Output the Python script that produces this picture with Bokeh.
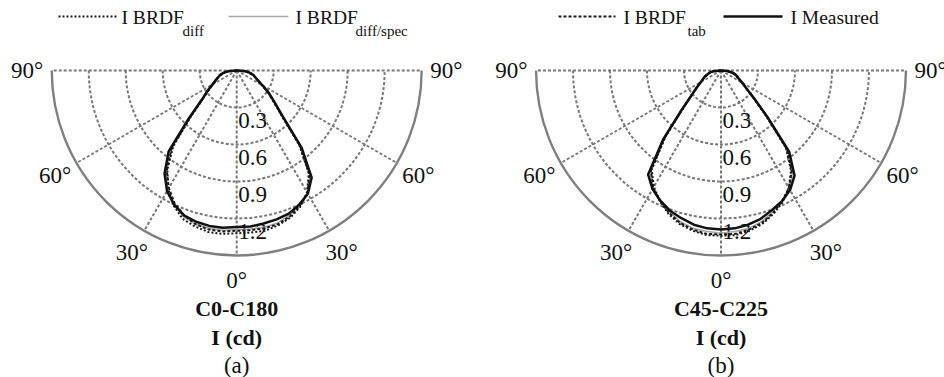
import numpy as np
from bokeh.plotting import figure
from bokeh.layouts import row
from bokeh.models import Range1d
from bokeh.core.properties import value
from bokeh.embed import file_html
from bokeh.resources import INLINE

# ---------------- data ----------------
angles = list(range(-90, 95, 5))  # degrees from nadir; negative = left half

ring_values = [0.3, 0.6, 0.9, 1.2]
ring_labels = ["0.3", "0.6", "0.9", "1.2"]
outer_value = 1.5
spoke_angles = [-90, -60, -30, 0, 30, 60, 90]
spoke_labels = ["90°", "60°", "30°", "0°", "30°", "60°", "90°"]

# C0-C180
c0_measured = [0.00, 0.07, 0.11, 0.14, 0.16, 0.19, 0.23, 0.29, 0.37, 0.55, 0.86, 1.02, 1.13, 1.20,
               1.25, 1.27, 1.28, 1.28, 1.27, 1.27, 1.26, 1.25, 1.235, 1.20, 1.155, 1.06, 0.82, 0.53,
               0.40, 0.32, 0.24, 0.19, 0.16, 0.14, 0.11, 0.07, 0.00]
c0_diff = [0.00, 0.07, 0.11, 0.14, 0.16, 0.19, 0.22, 0.28, 0.36, 0.52, 0.80, 0.98, 1.11, 1.21,
           1.28, 1.31, 1.33, 1.33, 1.32, 1.32, 1.32, 1.30, 1.27, 1.22, 1.14, 1.02, 0.79, 0.51,
           0.39, 0.31, 0.24, 0.19, 0.16, 0.14, 0.11, 0.07, 0.00]
c0_tab = [0.00, 0.07, 0.11, 0.13, 0.16, 0.18, 0.22, 0.28, 0.36, 0.53, 0.82, 0.99, 1.10, 1.19,
          1.25, 1.29, 1.31, 1.31, 1.30, 1.30, 1.30, 1.29, 1.26, 1.21, 1.15, 1.03, 0.80, 0.52,
          0.39, 0.31, 0.24, 0.19, 0.16, 0.13, 0.10, 0.07, 0.00]
c0_diffspec = [0.00, 0.07, 0.11, 0.14, 0.16, 0.19, 0.23, 0.29, 0.37, 0.54, 0.83, 1.00, 1.12, 1.20,
               1.26, 1.29, 1.30, 1.30, 1.29, 1.29, 1.29, 1.28, 1.25, 1.21, 1.15, 1.04, 0.81, 0.52,
               0.40, 0.31, 0.24, 0.19, 0.16, 0.14, 0.11, 0.07, 0.00]

# C45-C225
c45_measured = [0.00, 0.06, 0.09, 0.11, 0.14, 0.16, 0.19, 0.24, 0.31, 0.45, 0.73, 1.03, 1.11, 1.165,
                1.21, 1.24, 1.27, 1.285, 1.29, 1.285, 1.27, 1.245, 1.205, 1.17, 1.12, 1.04, 0.86, 0.53,
                0.35, 0.25, 0.20, 0.16, 0.14, 0.12, 0.09, 0.05, 0.00]
c45_diff = [0.00, 0.06, 0.09, 0.11, 0.14, 0.16, 0.19, 0.24, 0.31, 0.44, 0.70, 0.98, 1.09, 1.17,
            1.24, 1.29, 1.32, 1.34, 1.34, 1.34, 1.32, 1.29, 1.24, 1.18, 1.10, 0.99, 0.82, 0.51,
            0.34, 0.25, 0.20, 0.16, 0.14, 0.12, 0.09, 0.05, 0.00]
c45_tab = [0.00, 0.06, 0.09, 0.11, 0.13, 0.16, 0.19, 0.24, 0.31, 0.44, 0.71, 0.99, 1.10, 1.17,
           1.23, 1.28, 1.31, 1.33, 1.33, 1.33, 1.31, 1.28, 1.23, 1.17, 1.10, 1.00, 0.83, 0.52,
           0.34, 0.25, 0.20, 0.16, 0.13, 0.11, 0.08, 0.05, 0.00]
c45_diffspec = [0.00, 0.06, 0.09, 0.11, 0.14, 0.16, 0.19, 0.24, 0.31, 0.45, 0.72, 1.00, 1.10, 1.17,
                1.22, 1.27, 1.30, 1.31, 1.32, 1.31, 1.30, 1.27, 1.22, 1.17, 1.11, 1.01, 0.84, 0.52,
                0.35, 0.25, 0.20, 0.16, 0.14, 0.12, 0.09, 0.05, 0.00]

panel_titles = ["C0-C180", "C45-C225"]
panel_unit = "I (cd)"
panel_letters = ["(a)", "(b)"]

# ---------------- layout / style ----------------
S = 123.3            # px per cd
W, H = 472, 377
PAGE_X0 = [0, 472]
CENTER_X = [236.2, 720.5]
CENTER_Y = 70.0
FONT = value("Liberation Serif")
GRID = "#787878"
OUTER = "#7f7f7f"
TXT = "#111111"

series_styles = [
    # (key, color, width, dash)
    ("diffspec", "#a8a8a8", 1.6, "solid"),
    ("diff", "#1a1a1a", 2.0, "2 2"),
    ("tab", "#1a1a1a", 2.0, "3 2"),
    ("measured", "#111111", 2.5, "solid"),
]
panel_series = [
    {"measured": c0_measured, "diff": c0_diff, "tab": c0_tab, "diffspec": c0_diffspec},
    {"measured": c45_measured, "diff": c45_diff, "tab": c45_tab, "diffspec": c45_diffspec},
]

# legend entries per panel: (style key, sample x0, sample x1, text x, text, sub x, sub text) in page px
legend_entries = [
    [("diff", 58, 117, 121, "I BRDF", 182, "diff"),
     ("diffspec", 228, 288, 295, "I BRDF", 355, "diff/spec")],
    [("tab", 558, 615, 623, "I BRDF", 687, "tab"),
     ("measured", 723, 782, 790, "I Measured", None, None)],
]


def make_panel(i):
    cx = CENTER_X[i]
    fx0 = PAGE_X0[i]
    xr = Range1d(-(cx - fx0) / S, (fx0 + W - cx) / S)
    yr = Range1d(-(H - CENTER_Y) / S, CENTER_Y / S)
    p = figure(width=W, height=H, x_range=xr, y_range=yr, output_backend="svg",
               toolbar_location=None, min_border=0, outline_line_color=None,
               x_axis_type=None, y_axis_type=None)
    p.grid.visible = False

    def px(xp):
        return (xp - cx) / S

    def py(yp):
        return -(yp - CENTER_Y) / S

    # rings
    n = len(ring_values)
    p.arc(x=[0] * n, y=[0] * n, radius=ring_values, start_angle=np.pi, end_angle=2 * np.pi,
          line_color=GRID, line_width=2, line_dash="3 2")
    # spokes
    a = np.radians(spoke_angles)
    p.segment(x0=[0] * len(a), y0=[0] * len(a), x1=outer_value * np.sin(a), y1=-outer_value * np.cos(a),
              line_color=GRID, line_width=2, line_dash="3 2")
    # outer boundary
    p.arc(x=[0], y=[0], radius=[outer_value], start_angle=np.pi, end_angle=2 * np.pi,
          line_color=OUTER, line_width=2.4)

    # ring labels
    p.text(x=[0.012] * n, y=[-r - 13 / S for r in ring_values], text=ring_labels,
           text_font=FONT, text_font_size="23px", text_color=TXT,
           text_align="left", text_baseline="middle")
    # angle labels
    rl = 1.70
    p.text(x=rl * np.sin(a), y=-rl * np.cos(a), text=spoke_labels,
           text_font=FONT, text_font_size="23px", text_color=TXT,
           text_align="center", text_baseline="middle")

    # curves
    th = np.radians(angles)
    for key, col, lw, dash in series_styles:
        r = np.array(panel_series[i][key])
        p.line(r * np.sin(th), -r * np.cos(th), line_color=col, line_width=lw, line_dash=dash)

    # titles
    p.text(x=[0], y=[py(307.5)], text=[panel_titles[i]], text_font=FONT, text_font_size="22px",
           text_font_style="bold", text_color=TXT, text_align="center", text_baseline="middle")
    p.text(x=[0], y=[py(337)], text=[panel_unit], text_font=FONT, text_font_size="22px",
           text_font_style="bold", text_color=TXT, text_align="center", text_baseline="middle")
    p.text(x=[0], y=[py(364.5)], text=[panel_letters[i]], text_font=FONT, text_font_size="23px",
           text_color=TXT, text_align="center", text_baseline="middle")

    # legend
    style = {k: (c, w, d) for k, c, w, d in series_styles}
    for key, x0, x1, tx, txt, sx, sub in legend_entries[i]:
        c, w, d = style[key]
        p.line([px(x0), px(x1)], [py(16), py(16)], line_color=c, line_width=w, line_dash=d)
        p.text(x=[px(tx)], y=[py(16.5)], text=[txt], text_font=FONT, text_font_size="19.5px",
               text_color=TXT, text_align="left", text_baseline="middle")
        if sub:
            p.text(x=[px(sx)], y=[py(30.5)], text=[sub], text_font=FONT, text_font_size="15px",
                   text_color=TXT, text_align="left", text_baseline="middle")
    return p


layout = row(make_panel(0), make_panel(1))
open("out.html", "w").write(file_html(layout, INLINE))
